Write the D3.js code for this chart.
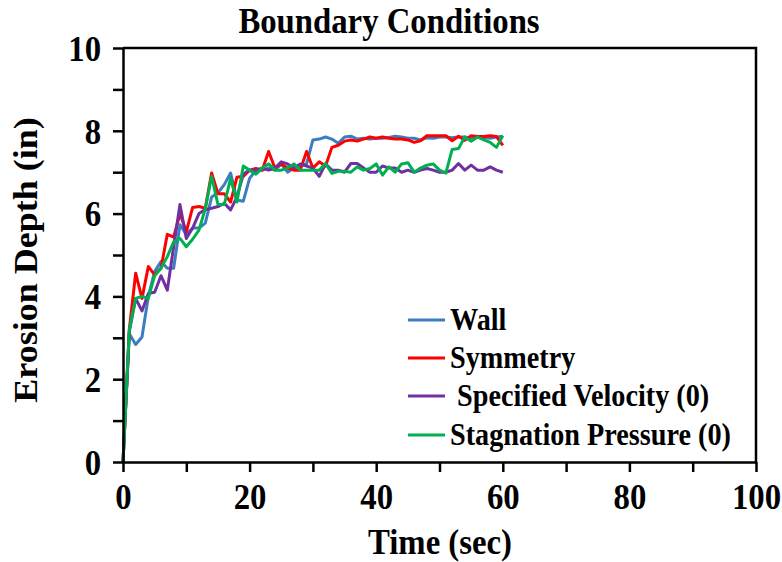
<!DOCTYPE html>
<html>
<head>
<meta charset="utf-8">
<script src="https://cdn.jsdelivr.net/npm/d3@7"></script>
<style>
  body { margin: 0; background: #fff; }
  svg { display: block; }
  text { font-family: "Liberation Serif", "Times New Roman", serif; font-weight: bold; fill: #000; }
</style>
</head>
<body>
<svg id="chart"></svg>
<script>
const time = d3.range(0, 61);

const wall = [0, 3.1, 2.84, 3.02, 4.0, 4.6, 4.84, 4.68, 4.68, 5.73, 5.5,
  5.65, 5.65, 5.77, 6.4, 6.5, 6.7, 6.98, 6.33, 6.3, 6.85,
  7.05, 7.05, 7.1, 7.05, 7.2, 7.0, 7.1, 7.15, 7.2, 7.78,
  7.8, 7.85, 7.8, 7.7, 7.85, 7.87, 7.8, 7.82, 7.8, 7.82,
  7.82, 7.84, 7.87, 7.85, 7.82, 7.82, 7.78, 7.83, 7.82, 7.85,
  7.85, 7.83, 7.85, 7.85, 7.82, 7.86, 7.84, 7.82, 7.85, 7.87];

const symmetry = [0, 3.2, 4.56, 3.95, 4.72, 4.52, 4.68, 5.5, 5.43, 6.0, 5.56,
  6.15, 6.17, 6.13, 6.98, 6.48, 6.48, 6.28, 6.88, 6.9, 7.05,
  7.09, 7.05, 7.5, 7.1, 7.2, 7.1, 7.05, 7.05, 7.5, 7.1,
  7.25, 7.15, 7.6, 7.65, 7.75, 7.78, 7.75, 7.8, 7.85, 7.82,
  7.85, 7.82, 7.8, 7.8, 7.78, 7.72, 7.76, 7.88, 7.88, 7.88,
  7.88, 7.76, 7.87, 7.77, 7.88, 7.86, 7.86, 7.88, 7.86, 7.65];

const velocity = [0, 3.15, 3.95, 3.65, 4.07, 4.1, 4.5, 4.15, 5.2, 6.22, 5.4,
  5.65, 6.0, 6.1, 6.13, 6.17, 6.25, 6.09, 6.4, 6.95, 7.05,
  7.05, 7.1, 7.05, 7.1, 7.25, 7.2, 7.1, 7.2, 7.15, 7.1,
  6.9, 7.2, 7.05, 7.05, 7.0, 7.21, 7.21, 7.1, 7.0, 7.0,
  7.15, 7.1, 7.1, 7.0, 7.05, 7.0, 7.05, 7.09, 7.05, 7.0,
  7.0, 7.05, 7.21, 7.05, 7.17, 7.05, 7.05, 7.13, 7.05, 7.0];

const stagnation = [0, 3.2, 3.95, 4.0, 3.95, 4.5, 4.68, 4.96, 5.32, 5.4, 5.2,
  5.38, 5.6, 6.12, 6.9, 6.22, 6.22, 6.85, 6.28, 7.15, 7.05,
  6.95, 7.1, 7.2, 7.05, 7.05, 7.1, 7.2, 7.05, 7.05, 7.05,
  7.05, 7.21, 6.97, 7.02, 7.02, 7.0, 7.13, 7.05, 7.09, 7.2,
  6.93, 7.13, 7.0, 7.2, 7.23, 7.0, 7.1, 7.17, 7.2, 7.05,
  6.98, 7.55, 7.57, 7.85, 7.75, 7.85, 7.78, 7.72, 7.6, 7.88];

const seriesNames = ["Wall", "Symmetry", " Specified Velocity (0)", "Stagnation Pressure (0)"];
const seriesColors = ["#3b7dc1", "#ff0000", "#7030a0", "#00b050"];
const seriesValues = [wall, symmetry, velocity, stagnation];

const xTicks = d3.range(0, 101, 10);
const yTicks = d3.range(0, 11, 1);

const width = 782;
const height = 562;
const margin = { top: 48, right: 26, bottom: 100, left: 123 };
const squeeze = 0.91;

const svg = d3.select("#chart")
    .attr("width", width)
    .attr("height", height);

const x = d3.scaleLinear().domain([0, 100]).range([margin.left, width - margin.right]);
const y = d3.scaleLinear().domain([0, 10]).range([height - margin.bottom, margin.top]);

// plot frame (top and right)
svg.append("path")
    .attr("d", `M${x(0)},${y(10)}H${x(100)}V${y(0)}`)
    .attr("fill", "none")
    .attr("stroke", "#000")
    .attr("stroke-width", 2.5);

// lines
const line = d3.line()
    .x((d, i) => x(time[i]))
    .y(d => y(d));

seriesValues.forEach((vals, k) => {
    svg.append("path")
        .datum(vals)
        .attr("fill", "none")
        .attr("stroke", seriesColors[k])
        .attr("stroke-width", 3)
        .attr("stroke-linejoin", "round")
        .attr("d", line);
});

// axes
const xAxis = svg.append("g")
    .attr("transform", `translate(0,${y(0)})`)
    .call(d3.axisBottom(x).tickValues(xTicks).tickSize(10).tickSizeOuter(0)
        .tickFormat(d => d % 20 === 0 ? d : ""));

const yAxis = svg.append("g")
    .attr("transform", `translate(${x(0)},0)`)
    .call(d3.axisLeft(y).tickValues(yTicks).tickSize(10).tickSizeOuter(0)
        .tickFormat(d => d % 2 === 0 ? d : ""));

[xAxis, yAxis].forEach(g => {
    g.select(".domain").attr("stroke", "#000").attr("stroke-width", 2.5);
    g.selectAll(".tick line").attr("stroke", "#000").attr("stroke-width", 2.5);
    g.selectAll(".tick text")
        .attr("font-family", null)
        .style("font-size", "36px")
        .attr("transform", `scale(${squeeze},1)`);
});
xAxis.attr("font-size", null).selectAll(".tick text").attr("y", 47).attr("dy", 0);
yAxis.attr("font-size", null).selectAll(".tick text").attr("x", -22 / squeeze).attr("dy", "0.34em");

function label(txt, px, py, size, anchor, rotate) {
    const g = svg.append("g")
        .attr("transform", `translate(${px},${py}) scale(${squeeze},1)` + (rotate ? ` rotate(${rotate})` : ""));
    return g.append("text")
        .attr("text-anchor", anchor)
        .style("font-size", size + "px")
        .style("white-space", "pre")
        .text(txt);
}

label("Boundary Conditions", 389, 33, 36, "middle");
label("Time (sec)", 440, 554, 36, "middle");
label("Erosion Depth (in)", 37, 260, 36, "middle", -90);

// legend
const legendY = [320, 358, 396, 435];
seriesNames.forEach((name, k) => {
    svg.append("line")
        .attr("x1", 408).attr("x2", 445)
        .attr("y1", legendY[k]).attr("y2", legendY[k])
        .attr("stroke", seriesColors[k])
        .attr("stroke-width", 3);
    label(name, 450, legendY[k] + 10, 31, "start");
});
</script>
</body>
</html>
